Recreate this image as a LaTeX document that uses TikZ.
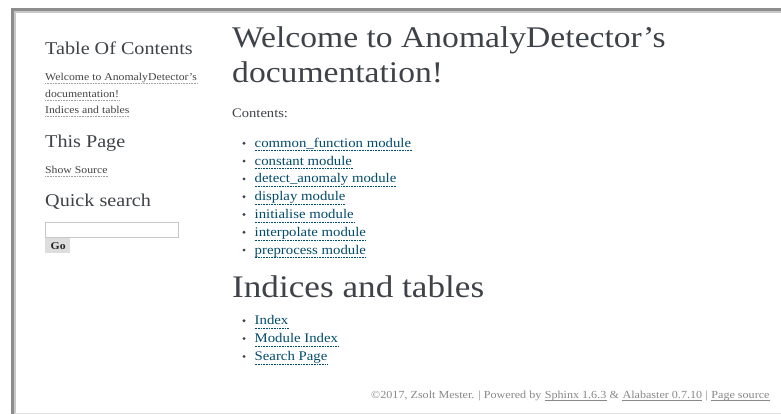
\documentclass[tikz,border=0pt]{standalone}
\usepackage{fontspec}
\setmainfont{Liberation Serif}[FakeStretch=1.12]
\usetikzlibrary{positioning}
\definecolor{headtext}{HTML}{3E4349}
\definecolor{sidetext}{HTML}{444444}
\definecolor{linkblue}{HTML}{004B6B}
\definecolor{footgray}{HTML}{888888}
\definecolor{framegray}{HTML}{8C8C8C}
\definecolor{shadegray}{HTML}{C8C8C8}
\definecolor{buttongray}{HTML}{DDDDDD}

\begin{document}
\begin{tikzpicture}[
      x=1pt, y=-1pt,
      every node/.style={inner sep=0pt, anchor=base west, text=headtext},
      pagehead/.style={font=\fontsize{30}{34}\selectfont},
      sidehead/.style={font=\fontsize{18}{21}\selectfont},
      sidelink/.style={font=\fontsize{10.5}{13}\selectfont, text=sidetext},
      doclink/.style={font=\fontsize{13.2}{16}\selectfont, text=linkblue},
      bodytext/.style={font=\fontsize{13}{16}\selectfont},
      foot/.style={font=\fontsize{10.8}{13}\selectfont, text=footgray},
      dotline/.style={densely dotted, line width=0.6pt},
      footline/.style={draw=footgray, line width=0.5pt},
      bullet/.style={circle, fill=headtext, inner sep=0pt, minimum size=3.2pt, anchor=center}
    ]
    \useasboundingbox (0,0) rectangle (781,414);
    % page frame
    \fill[white] (0,0) rectangle (781,414);
    \draw[shadegray, line width=1.5pt] (15,414) -- (15,12) -- (781,12);
    \draw[framegray, line width=2.5pt] (12.5,414) -- (12.5,9.5) -- (781,9.5);
    \draw[shadegray!50, line width=1pt] (15,413.5) -- (781,413.5);

    % sidebar
    \node[sidehead] (toc) at (45,55) {Table Of Contents};
    \node[sidelink] (tocwelcome) at (45,81) {Welcome to AnomalyDetector's};
    \node[sidelink] (tocdoc) at (45,98) {documentation!};
    \node[sidelink] (tocindices) at (45,114) {Indices and tables};
    \node[sidehead] (thispage) at (45,148) {This Page};
    \node[sidelink] (showsource) at (45,174) {Show Source};
    \node[sidehead] (quicksearch) at (45,207) {Quick search};
    \foreach \n in {tocwelcome, tocdoc, tocindices, showsource}
      \draw[dotline, sidetext!50] ([yshift=-2.5pt]\n.base west) -- ([yshift=-2.5pt]\n.base east);
    \draw[shadegray, line width=0.8pt] (45.5,222.5) rectangle (178,237);
    \fill[buttongray] (45,237.5) rectangle (70,252.5);
    \node[font=\fontsize{10.5}{12}\selectfont\bfseries, text=black!85] (go) at (50.5,249) {Go};

    % main column
    \node[pagehead] (title) at (232,48) {Welcome to AnomalyDetector’s};
    \node[pagehead] (titletwo) at (232,83) {documentation!};
    \node[bodytext] (contents) at (232,118) {Contents:};
    \foreach \name [count=\i] in {common\_function module, constant module, detect\_anomaly module,
        display module, initialise module, interpolate module, preprocess module} {
      \node[doclink] (mod\i) at (254.5,129.5+17.8*\i) {\name};
      \node[bullet] at (244,125.5+17.8*\i) {};
      \draw[dotline, linkblue] ([yshift=-3.5pt]mod\i.base west) -- ([yshift=-3.5pt]mod\i.base east);
    }
    \node[pagehead, font=\fontsize{31.4}{36}\selectfont] (indices) at (232,297) {Indices and tables};
    \foreach \name [count=\i] in {Index, Module Index, Search Page} {
      \node[doclink] (idx\i) at (254.5,307+17.8*\i) {\name};
      \node[bullet] at (244,303+17.8*\i) {};
      \draw[dotline, linkblue] ([yshift=-3.5pt]idx\i.base west) -- ([yshift=-3.5pt]idx\i.base east);
    }

    % footer
    \node[foot] (copy) at (371,398) {©2017, Zsolt Mester. | Powered by\ \mbox{}};
    \node[foot] (sphinx) at (copy.base east) {Sphinx 1.6.3};
    \node[foot] (amp) at (sphinx.base east) {\mbox{}\ \&\ \mbox{}};
    \node[foot] (alabaster) at (amp.base east) {Alabaster 0.7.10};
    \node[foot] (bar) at (alabaster.base east) {\mbox{}\ |\ \mbox{}};
    \node[foot] (pagesource) at (bar.base east) {Page source};
    \foreach \n in {sphinx, alabaster, pagesource}
      \draw[footline] ([yshift=-2pt]\n.base west) -- ([yshift=-2pt]\n.base east);
\end{tikzpicture}
\end{document}
